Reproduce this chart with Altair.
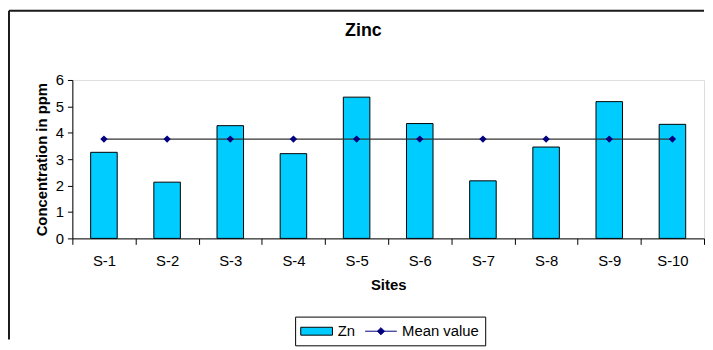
import altair as alt
import pandas as pd

sites = ["S-1", "S-2", "S-3", "S-4", "S-5", "S-6", "S-7", "S-8", "S-9", "S-10"]
zn = [3.26, 2.13, 4.27, 3.21, 5.35, 4.35, 2.18, 3.46, 5.18, 4.32]
mean_value = [3.76, 3.76, 3.76, 3.76, 3.76, 3.76, 3.76, 3.76, 3.76, 3.76]
series = ["Zn", "Mean value"]
y_ticks = [0, 1, 2, 3, 4, 5, 6]

df = pd.DataFrame({"site": sites, "zn": zn, "mean": mean_value})

W, H = 638, 160
FONT = "Liberation Sans"
Y_TITLE = "Concentration in ppm"

x_axis = alt.Axis(
    labelAngle=0, tickBand="extent", tickSize=6, labelPadding=9, titlePadding=10,
    labelFontSize=15, titleFontSize=15, titleFontWeight="bold", labelFont=FONT,
    titleFont=FONT, domainColor="black", tickColor="black", labelColor="black",
    titleColor="black", grid=False,
)
y_axis = alt.Axis(
    values=y_ticks, tickCount=7, tickSize=5, labelPadding=4, titlePadding=6,
    labelFontSize=15, titleFontSize=15, titleFontWeight="bold", labelFont=FONT,
    titleFont=FONT, domainColor="black", tickColor="black", labelColor="black",
    titleColor="black", grid=False, labelOverlap=False,
)
x_scale = alt.Scale(paddingInner=0, paddingOuter=0)
y_scale = alt.Scale(domain=[0, 6], nice=False)


def xe():
    return alt.X("site:N", sort=sites, title="Sites", scale=x_scale, axis=x_axis)


def ye(field):
    return alt.Y(field, scale=y_scale, axis=y_axis, title=Y_TITLE)


bars = alt.Chart(df).mark_bar(
    fill="#00CCFF", stroke="black", strokeWidth=1, width=alt.RelativeBandSize(0.42)
).encode(x=xe(), y=ye("zn:Q"))

mean_line = alt.Chart(df).mark_line(color="#333333", strokeWidth=1.5).encode(
    x=xe(), y=ye("mean:Q")
)

mean_pts = alt.Chart(df).mark_point(
    shape="diamond", filled=True, fill="#000080", size=55, opacity=1
).encode(x=xe(), y=ye("mean:Q"))

zn_path = "M-1.1,-0.5H2.9V0.5H-1.1Z"
mean_path = "M-1.1,0H2.9M0.9,-0.45L1.35,0L0.9,0.45L0.45,0Z"

legend = alt.Legend(
    title=None, orient="none", legendX=225, legendY=239, direction="horizontal",
    strokeColor="black", padding=6, symbolSize=256,
    symbolStrokeWidth=1, symbolOpacity=1, labelFontSize=15, labelFont=FONT,
    labelColor="black", labelOffset=20, columnPadding=7, fillColor="white",
)

legend_layer = alt.Chart(pd.DataFrame({"series": series})).mark_point(
    filled=True, opacity=0
).encode(
    x=alt.value(0),
    y=alt.value(0),
    shape=alt.Shape("series:N", scale=alt.Scale(domain=series, range=[zn_path, mean_path]), legend=legend),
    fill=alt.Fill("series:N", scale=alt.Scale(domain=series, range=["#00CCFF", "#000080"]), legend=legend),
    stroke=alt.Stroke("series:N", scale=alt.Scale(domain=series, range=["black", "#000080"]), legend=legend),
)

one = pd.DataFrame({"a": [0]})
left_border = alt.Chart(one).mark_rule(color="#1a1a1a", strokeWidth=2).encode(
    x=alt.value(-64), y=alt.value(-70), y2=alt.value(262)
)
top_border = alt.Chart(one).mark_rule(color="#1a1a1a", strokeWidth=2).encode(
    x=alt.value(-64), x2=alt.value(W), y=alt.value(-70)
)

chart = alt.layer(
    left_border, top_border, bars, mean_line, mean_pts, legend_layer
).properties(
    width=W, height=H, padding=0,
    title=alt.TitleParams(
        "Zinc", fontSize=18, fontWeight="bold", font=FONT, color="black",
        dx=-25, offset=-31, anchor="middle",
    ),
).configure_view(
    stroke="black", strokeWidth=1
).configure(
    background="white"
)

chart.save("out.html", embed_options={"renderer": "svg", "actions": False})
